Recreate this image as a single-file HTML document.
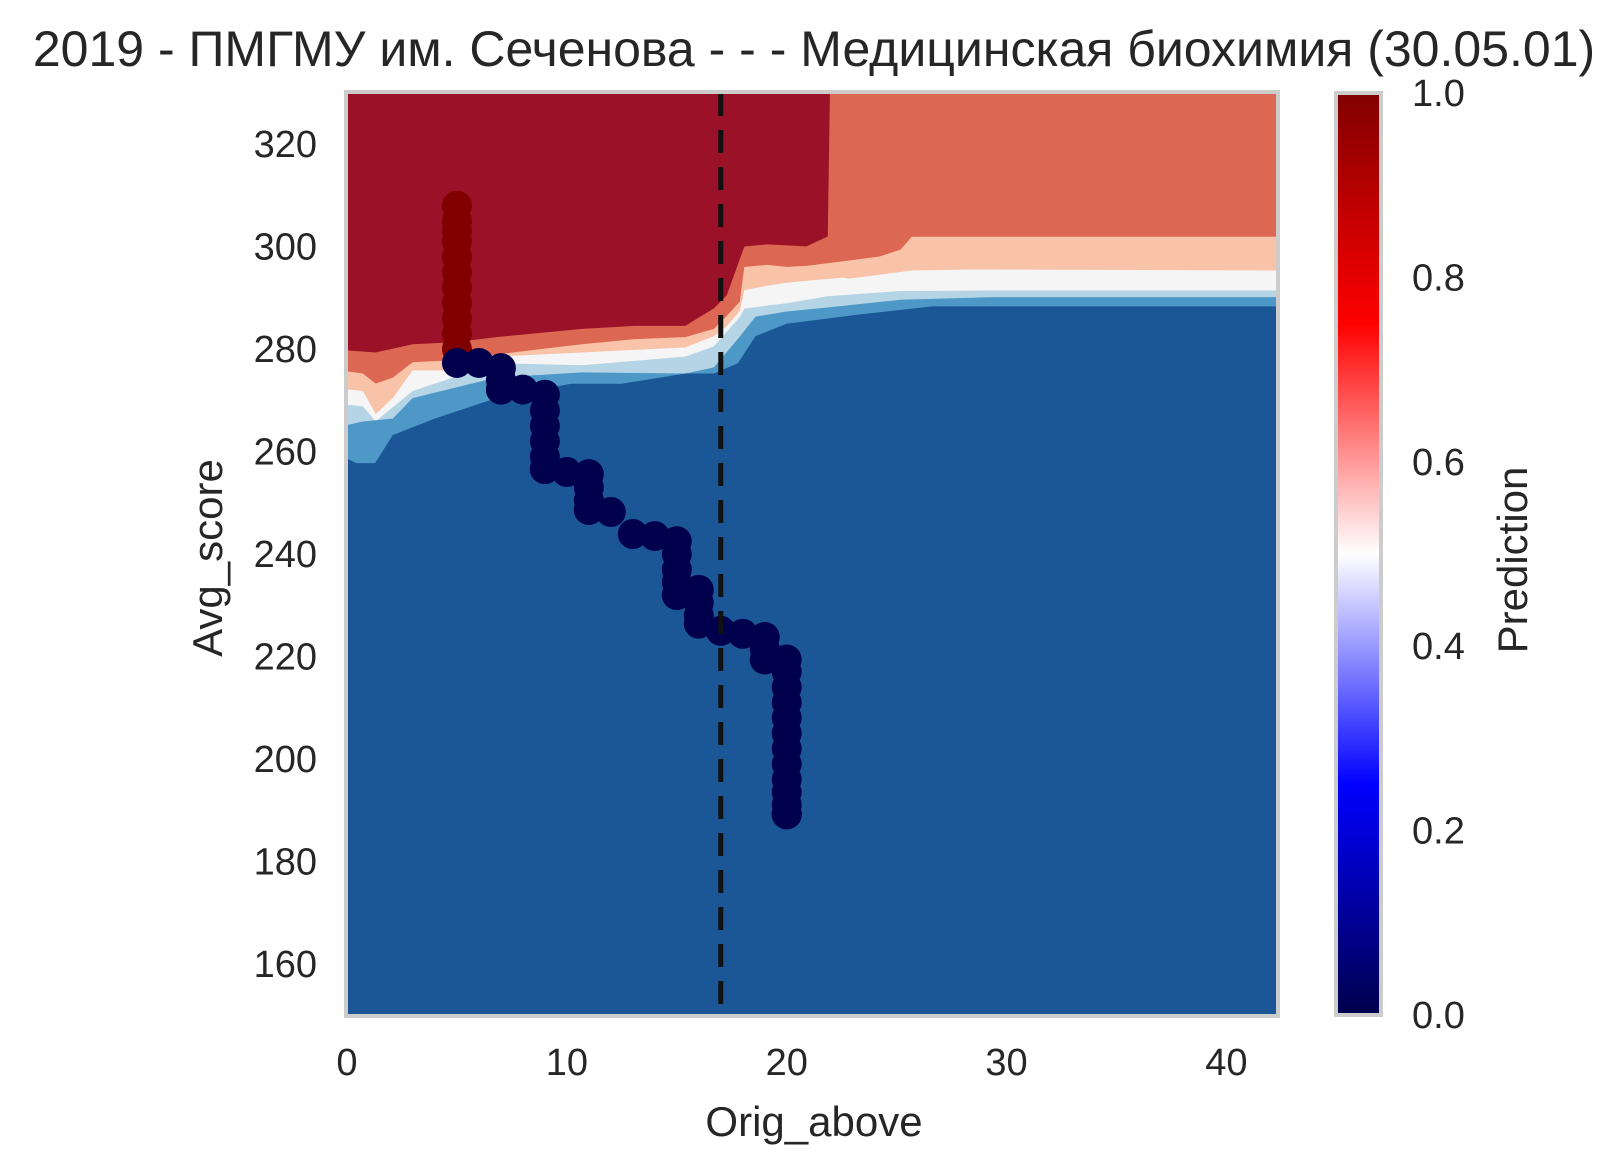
<!DOCTYPE html>
<html><head><meta charset="utf-8"><style>
body{margin:0;background:#fff;}
svg{display:block;font-family:"Liberation Sans",Arial,sans-serif;}
</style></head><body>
<svg id="chart" width="1622" height="1174" viewBox="0 0 1622 1174" xmlns="http://www.w3.org/2000/svg">
<defs>
<clipPath id="plotclip"><rect x="347" y="93" width="930" height="922"/></clipPath>
<linearGradient id="seis" x1="0" y1="1" x2="0" y2="0">
<stop offset="0" stop-color="#00004c"/><stop offset="0.25" stop-color="#0000ff"/><stop offset="0.5" stop-color="#ffffff"/><stop offset="0.75" stop-color="#ff0000"/><stop offset="1" stop-color="#800000"/>
</linearGradient>
</defs>
<text x="814" y="66" text-anchor="middle" font-size="50" fill="#262626">2019 - ПМГМУ им. Сеченова - - - Медицинская биохимия (30.05.01)</text>
<g id="plot" clip-path="url(#plotclip)"></g>
<g id="axes"></g>
<rect x="346" y="92" width="932" height="924" fill="none" stroke="#cccccc" stroke-width="4"/>
<text x="814" y="1136" text-anchor="middle" font-size="42" fill="#262626">Orig_above</text>
<text transform="translate(222,558) rotate(-90)" text-anchor="middle" font-size="42" fill="#262626">Avg_score</text>
<rect x="1336" y="93" width="45" height="922" fill="url(#seis)" stroke="#cccccc" stroke-width="4"/>
<text transform="translate(1527,560) rotate(-90)" text-anchor="middle" font-size="42" fill="#262626">Prediction</text>
</svg>
<script>
const xMin=0,xMax=42.3,yMin=150,yMax=330;
const PL=347,PR=1277,PT=93,PB=1015;
const px=x=>PL+(x-xMin)/(xMax-xMin)*(PR-PL);
const py=y=>PB-(y-yMin)/(yMax-yMin)*(PB-PT);
const bandColors=['#9b1128','#dc6853','#f9c3a9','#f5f5f5','#b5d4e6','#4d98c6','#1b5796'];
const l1x=[0,1.3,3.0,4.9,6.8,10.7,13.1,15.4,16.7,17.3,18.1,19.1,20.9,21.9,22.0,42.3];
const l1y=[279.6,279.2,280.8,281.2,282.2,283.8,284.4,284.4,287.8,290.4,299.9,300.3,299.9,301.9,330,330];
const l2x=[0,0.7,1.3,2.1,3.0,4.9,6.8,8.7,10.7,13.1,15.4,16.7,17.3,17.9,18.1,19.1,20.0,20.9,22.4,24.2,25.2,25.7,42.3];
const l2y=[275.5,275.1,273.1,274.3,277.3,277.7,278.8,279.8,280.8,281.8,282.2,283.8,286.4,289.2,295.9,296.3,295.9,296.1,296.9,297.9,299.3,301.8,301.8];
const l3x=[0,0.7,1.3,2.1,3.0,4.9,6.8,10.7,15.4,16.7,17.3,17.9,18.1,19.1,20.0,21.4,22.6,22.8,25.7,28.5,42.3];
const l3y=[272,271.7,267.1,270.3,275.7,275.7,278.4,279.2,280.2,282.4,284.4,287.4,291.4,292.2,292.8,293.4,293.8,293.6,295.2,295.4,295.2];
const l4x=[0,0.7,1.3,3.0,6.8,10.7,15.4,16.7,17.9,18.1,20.0,21.9,25.2,29.4,42.3];
const l4y=[269,268.7,265.7,271.7,277.1,276.7,278.4,280.4,286.2,287.8,288.8,290.2,291.2,291.3,291.3];
const l5x=[0,0.7,2.1,3.0,6.8,10.7,15.4,16.7,17.9,18.6,20.0,21.9,25.2,29.4,42.3];
const l5y=[265,265.7,266.3,270.3,274.3,275.3,275.1,276.3,282.4,286.2,287.2,288,289.5,290,290];
const l6x=[0,0.4,1.3,2.1,4.0,6.8,9.2,10.2,12.5,15.4,16.7,17.8,18.6,20.0,23.3,26.6,42.3];
const l6y=[258.5,257.6,257.6,263.1,266.3,270.3,272.3,273.1,273.1,275.1,275.1,277.1,282.4,284.8,286.6,288.2,288.2];
const redX=[5,5,5,5,5,5,5,5,5,5,5];
const redY=[280,283,286,289,292,295,298,301,303,305,308];
const blueX=[5,6,7,7,7,7,8,9,9,9,9,9,9,9,9,10,11,11,11,11,11,12,13,14,15,15,15,15,15,15,16,16,16,16,17,18,19,19,19,20,20,20,20,20,20,20,20,20,20,20,20,20,20,20,20];
const blueY=[277.3,277.3,276.3,274,272.1,272.1,272.1,271.1,268,265,262,259,256.6,256.6,256.6,256,255.6,253,250.5,248.6,248.6,248.2,243.9,243.5,242.5,240,237,234.5,232,232,233,230.5,228,226.4,225,224.4,223.8,221.5,219.4,219.4,217,214,211,208,205,202,199,196,193.5,191,189.2,189.2,189.2,189.2,189.2];
const xTicks=[0,10,20,30,40];
const yTicks=[160,180,200,220,240,260,280,300,320];
const cbTicks=[0.0,0.2,0.4,0.6,0.8,1.0];
const NS='http://www.w3.org/2000/svg';
const plot=document.getElementById('plot'),axes=document.getElementById('axes');
function mk(tag,attrs,parent){const e=document.createElementNS(NS,tag);for(const k in attrs)e.setAttribute(k,attrs[k]);parent.appendChild(e);return e;}
function linePts(xs,ys){return xs.map((x,i)=>px(x)+','+py(ys[i]));}
let bg=mk('rect',{x:PL,y:PT,width:PR-PL,height:PB-PT,fill:bandColors[0]},plot);


const Ls=[[l1x,l1y],[l2x,l2y],[l3x,l3y],[l4x,l4y],[l5x,l5y],[l6x,l6y]];
Ls.forEach((L,i)=>{
  const pts=linePts(L[0],L[1]);
  pts.push(px(xMax)+','+py(yMin-5));pts.push(px(xMin)+','+py(yMin-5));
  const p=mk('polygon',{points:pts.join(' '),fill:bandColors[i+1],stroke:bandColors[i+1],'stroke-width':1.5},plot);
  
  
});
redX.forEach((x,i)=>{
  const c=mk('circle',{cx:px(x),cy:py(redY[i]),r:15,fill:'#800000'},plot);
  
  
});
blueX.forEach((x,i)=>{
  const c=mk('circle',{cx:px(x),cy:py(blueY[i]),r:15,fill:'#00004c'},plot);
  
  
});
const dl=mk('line',{x1:px(17),x2:px(17),y1:py(yMax),y2:py(yMin),stroke:'#111',
 'stroke-width':5,'stroke-dasharray':'23 14'},plot);


xTicks.forEach(t=>{
  const e=mk('text',{x:px(t),y:1075,'text-anchor':'middle','font-size':38,fill:'#262626'},axes);
  e.textContent=t;
  
  
});
yTicks.forEach(t=>{
  const e=mk('text',{x:317,y:py(t)+13,'text-anchor':'end','font-size':38,fill:'#262626'},axes);
  e.textContent=t;
  
  
});
cbTicks.forEach(t=>{
  const e=mk('text',{x:1412,y:PB-t*(PB-PT)+13,'font-size':38,fill:'#262626'},axes);
  e.textContent=t.toFixed(1);
  
  
});
</script>
</body></html>
